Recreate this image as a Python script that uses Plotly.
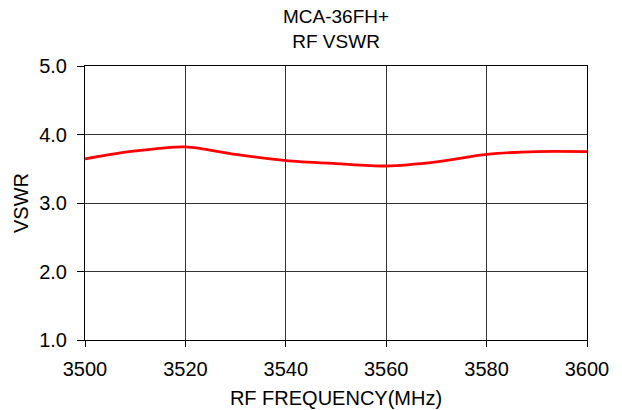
import plotly.graph_objects as go

freq = [3500, 3510, 3520, 3530, 3540, 3550, 3560, 3570, 3580, 3590, 3600]
vswr = [3.645, 3.76, 3.82, 3.71, 3.62, 3.575, 3.54, 3.60, 3.71, 3.75, 3.75]

x_ticks = [3500, 3520, 3540, 3560, 3580, 3600]
y_ticks = [1.0, 2.0, 3.0, 4.0, 5.0]

fig = go.Figure()
fig.add_trace(go.Scatter(x=freq, y=vswr, mode="lines",
                         line=dict(color="#ff0000", width=2.8, shape="spline", smoothing=0.8),
                         showlegend=False))

font = "Liberation Sans, Arial, sans-serif"
fig.update_layout(
    width=622, height=410,
    margin=dict(l=77, r=43, t=58, b=78),
    paper_bgcolor="white", plot_bgcolor="white",
    font=dict(family=font, size=20, color="black"),
    annotations=[dict(text="MCA-36FH+<br>RF VSWR", xref="paper", yref="paper",
                      x=0.5, y=1.0, xanchor="center", yanchor="bottom", yshift=12,
                      showarrow=False, font=dict(family=font, size=19, color="black"))],
)
fig.update_xaxes(range=[3500, 3600], tickvals=x_ticks, ticktext=[str(v) for v in x_ticks],
                 showgrid=True, gridcolor="#333333", gridwidth=1,
                 showline=True, linecolor="black", linewidth=1, mirror=True,
                 ticks="outside", ticklen=6, tickcolor="black",
                 ticklabelstandoff=5,
                 title=dict(text="RF FREQUENCY(MHz)", standoff=11, font=dict(size=20)),
                 zeroline=False)
fig.update_yaxes(range=[1.0, 5.0], tickvals=y_ticks, ticktext=[f"{v:.1f}" for v in y_ticks],
                 showgrid=True, gridcolor="#333333", gridwidth=1,
                 showline=True, linecolor="black", linewidth=1, mirror=True,
                 ticks="outside", ticklen=7, tickcolor="black",
                 ticklabelstandoff=6,
                 title=dict(text="VSWR", standoff=5, font=dict(size=20)),
                 zeroline=False)

fig.write_html("out.html")
